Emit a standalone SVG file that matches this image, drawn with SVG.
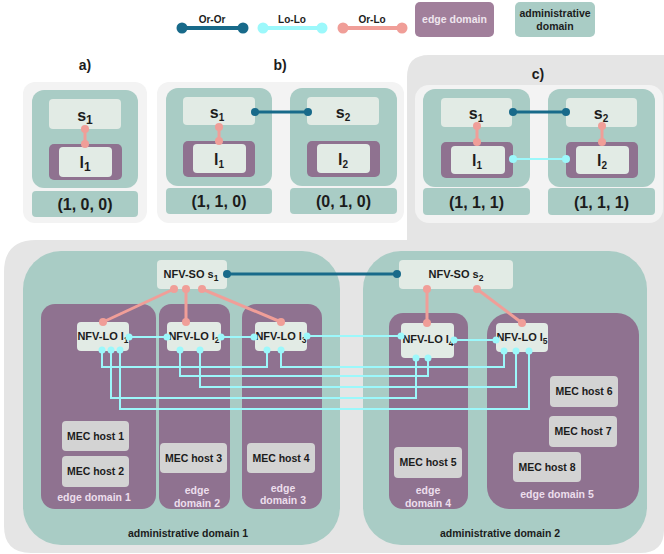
<svg xmlns="http://www.w3.org/2000/svg" width="664" height="554" viewBox="0 0 664 554">
<defs>
<style>
text{font-family:"Liberation Sans",Arial,sans-serif;font-weight:bold;fill:#1c1c1c;text-anchor:middle}
.panel{fill:#f3f3f3}
.admin{fill:#a9ccc5}
.edge{fill:#8f7290}
.node{fill:#e2ebe5}
.mec{fill:#d3d3d3}
.t16{font-size:16px}
.t14{font-size:14px}
.t11{font-size:11px}
.t10{font-size:10.5px}
.elab{fill:#ecdeec;font-size:10.5px}
.oror{stroke:#186a8a;stroke-width:3;fill:none}
.lolo{stroke:#9cf8fb;stroke-width:2;fill:none}
.orlo{stroke:#f09e98;stroke-width:3;fill:none}
.doror{fill:#186a8a}
.dlolo{fill:#9cf8fb}
.dorlo{fill:#f09e98}
</style>
</defs>

<g id="background">
<path d="M4,272 Q4,240 36,240 H407 V77 Q407,55 429,55 H664 V530 Q664,553 640,553 H31 Q4,553 4,526 Z" fill="#e5e5e5"/>
</g>

<g id="legend">
<line x1="182" y1="28" x2="243" y2="28" stroke="#186a8a" stroke-width="4"/>
<circle cx="182" cy="28" r="5.5" class="doror"/><circle cx="243" cy="28" r="5.5" class="doror"/>
<text x="212" y="23" style="font-size:10px">Or-Or</text>
<line x1="263" y1="28" x2="322" y2="28" stroke="#9cf8fb" stroke-width="4"/>
<circle cx="263" cy="28" r="5.5" class="dlolo"/><circle cx="322" cy="28" r="5.5" class="dlolo"/>
<text x="292" y="23" style="font-size:10px">Lo-Lo</text>
<line x1="343" y1="28" x2="402" y2="28" stroke="#f09e98" stroke-width="4"/>
<circle cx="343" cy="28" r="5.5" class="dorlo"/><circle cx="402" cy="28" r="5.5" class="dorlo"/>
<text x="372" y="23" style="font-size:10px">Or-Lo</text>
<rect x="415" y="2" width="79" height="35" rx="5" fill="#a17f9b"/>
<text x="454.5" y="23" class="t10" style="fill:#efe6ee">edge domain</text>
<rect x="515" y="2" width="80" height="35" rx="5" class="admin"/>
<text x="555" y="17" class="t10">administrative</text>
<text x="555" y="30" class="t10">domain</text>
</g>

<g id="panel-a">
<text x="85" y="70" class="t14">a)</text>
<rect x="23" y="82" width="124" height="141" rx="12" class="panel"/>
<rect x="32" y="90" width="106" height="98" rx="12" class="admin"/>
<rect x="49" y="99" width="72" height="30" rx="4" class="node"/>
<text x="85" y="121" class="t16">s<tspan dy="3" style="font-size:12px">1</tspan></text>
<rect x="49" y="144" width="73" height="36" rx="5" class="edge"/>
<rect x="59" y="147" width="53" height="30" rx="4" class="node"/>
<text x="85" y="168" class="t16">l<tspan dy="3" style="font-size:12px">1</tspan></text>
<rect x="32" y="191" width="106" height="26" rx="4" class="admin"/>
<text x="85" y="210" class="t16">(1, 0, 0)</text>
</g>

<g id="panel-b">
<text x="280" y="70" class="t14">b)</text>
<rect x="157" y="82" width="247" height="141" rx="12" class="panel"/>
<rect x="166" y="88" width="106" height="98" rx="12" class="admin"/>
<rect x="183" y="97" width="72" height="28" rx="4" class="node"/>
<text x="217" y="118" class="t16">s<tspan dy="3" style="font-size:10px">1</tspan></text>
<rect x="183" y="141" width="72" height="36" rx="5" class="edge"/>
<rect x="193" y="144" width="53" height="29" rx="4" class="node"/>
<text x="219" y="165" class="t16">l<tspan dy="3" style="font-size:10px">1</tspan></text>
<rect x="290" y="88" width="107" height="98" rx="12" class="admin"/>
<rect x="307" y="97" width="72" height="28" rx="4" class="node"/>
<text x="343" y="118" class="t16">s<tspan dy="3" style="font-size:10px">2</tspan></text>
<rect x="307" y="141" width="73" height="36" rx="5" class="edge"/>
<rect x="317" y="144" width="53" height="29" rx="4" class="node"/>
<text x="343" y="165" class="t16">l<tspan dy="3" style="font-size:10px">2</tspan></text>
<rect x="166" y="188" width="106" height="26" rx="4" class="admin"/>
<text x="219" y="207" class="t16">(1, 1, 0)</text>
<rect x="290" y="188" width="107" height="26" rx="4" class="admin"/>
<text x="343.5" y="207" class="t16">(0, 1, 0)</text>
</g>

<g id="panel-c">
<text x="538" y="79" class="t14">c)</text>
<rect x="415" y="85" width="248" height="138" rx="14" class="panel"/>
<rect x="423" y="89" width="107" height="98" rx="12" class="admin"/>
<rect x="441" y="98" width="71" height="29" rx="4" class="node"/>
<text x="476" y="119" class="t16">s<tspan dy="3" style="font-size:10px">1</tspan></text>
<rect x="441" y="142" width="72" height="36" rx="5" class="edge"/>
<rect x="451" y="146" width="54" height="28" rx="4" class="node"/>
<text x="477" y="166" class="t16">l<tspan dy="3" style="font-size:10px">1</tspan></text>
<rect x="548" y="89" width="107" height="98" rx="12" class="admin"/>
<rect x="566" y="98" width="71" height="29" rx="4" class="node"/>
<text x="601" y="119" class="t16">s<tspan dy="3" style="font-size:10px">2</tspan></text>
<rect x="566" y="142" width="72" height="36" rx="5" class="edge"/>
<rect x="576" y="146" width="53" height="28" rx="4" class="node"/>
<text x="602" y="166" class="t16">l<tspan dy="3" style="font-size:10px">2</tspan></text>
<rect x="423" y="188" width="107" height="27" rx="4" class="admin"/>
<text x="476.5" y="208" class="t16">(1, 1, 1)</text>
<rect x="548" y="188" width="107" height="27" rx="4" class="admin"/>
<text x="601.5" y="208" class="t16">(1, 1, 1)</text>
</g>

<g id="admin-domain-1">
<rect x="23" y="251" width="317" height="294" rx="38" class="admin"/>
<text x="188" y="537" class="t10">administrative domain 1</text>
</g>
<g id="admin-domain-2">
<rect x="363" y="251" width="284" height="294" rx="38" class="admin"/>
<text x="500" y="537" class="t10">administrative domain 2</text>
</g>

<g id="edge-domain-1">
<rect x="41" y="304" width="115" height="205" rx="14" class="edge"/>
<text x="94" y="501" class="elab">edge domain 1</text>
</g>
<g id="edge-domain-2">
<rect x="159" y="304" width="71" height="205" rx="12" class="edge"/>
<text x="197" y="494" class="elab">edge</text>
<text x="197" y="507" class="elab">domain 2</text>
</g>
<g id="edge-domain-3">
<rect x="242" y="304" width="80" height="205" rx="14" class="edge"/>
<text x="283" y="492" class="elab">edge</text>
<text x="283" y="504" class="elab">domain 3</text>
</g>
<g id="edge-domain-4">
<rect x="389" y="313" width="79" height="196" rx="14" class="edge"/>
<text x="428" y="494" class="elab">edge</text>
<text x="428" y="507" class="elab">domain 4</text>
</g>
<g id="edge-domain-5">
<rect x="487" y="313" width="152" height="196" rx="22" class="edge"/>
<text x="557" y="498" class="elab">edge domain 5</text>
</g>

<g id="nfv-so-s1">
<rect x="157" y="260" width="70" height="29" rx="4" class="node"/>
<text x="191" y="278" class="t11">NFV-SO s<tspan dy="3" style="font-size:8.5px">1</tspan></text>
</g>
<g id="nfv-so-s2">
<rect x="399" y="260" width="114" height="29" rx="4" class="node"/>
<text x="456" y="278" class="t11">NFV-SO s<tspan dy="3" style="font-size:8.5px">2</tspan></text>
</g>

<g id="nfv-lo-l1">
<rect x="77" y="322" width="52" height="29" rx="4" class="node"/>
<text x="103" y="340" class="t11">NFV-LO l<tspan dy="3" style="font-size:8.5px">1</tspan></text>
</g>
<g id="nfv-lo-l2">
<rect x="167" y="322" width="54" height="29" rx="4" class="node"/>
<text x="194" y="340" class="t11">NFV-LO l<tspan dy="3" style="font-size:8.5px">2</tspan></text>
</g>
<g id="nfv-lo-l3">
<rect x="255" y="322" width="52" height="29" rx="4" class="node"/>
<text x="281" y="340" class="t11">NFV-LO l<tspan dy="3" style="font-size:8.5px">3</tspan></text>
</g>
<g id="nfv-lo-l4">
<rect x="401" y="323" width="53" height="35" rx="4" class="node"/>
<text x="428" y="343" class="t11">NFV-LO l<tspan dy="3" style="font-size:8.5px">4</tspan></text>
</g>
<g id="nfv-lo-l5">
<rect x="496" y="323" width="52" height="29" rx="4" class="node"/>
<text x="522" y="341" class="t11">NFV-LO l<tspan dy="3" style="font-size:8.5px">5</tspan></text>
</g>

<g id="mec-host-1"><rect x="62" y="421" width="67" height="30" rx="4" class="mec"/><text x="95.5" y="440" class="t10">MEC host 1</text></g>
<g id="mec-host-2"><rect x="62" y="456" width="67" height="31" rx="4" class="mec"/><text x="95.5" y="475" class="t10">MEC host 2</text></g>
<g id="mec-host-3"><rect x="160" y="443" width="67" height="30" rx="4" class="mec"/><text x="193.5" y="462" class="t10">MEC host 3</text></g>
<g id="mec-host-4"><rect x="247" y="443" width="68" height="30" rx="4" class="mec"/><text x="281" y="462" class="t10">MEC host 4</text></g>
<g id="mec-host-5"><rect x="394" y="447" width="68" height="31" rx="4" class="mec"/><text x="428" y="466" class="t10">MEC host 5</text></g>
<g id="mec-host-6"><rect x="550" y="376" width="68" height="31" rx="4" class="mec"/><text x="584" y="395" class="t10">MEC host 6</text></g>
<g id="mec-host-7"><rect x="549" y="416" width="68" height="31" rx="4" class="mec"/><text x="583" y="435" class="t10">MEC host 7</text></g>
<g id="mec-host-8"><rect x="513" y="452" width="68" height="30" rx="4" class="mec"/><text x="547" y="471" class="t10">MEC host 8</text></g>

<g id="connectors">
<line x1="85" y1="129" x2="85" y2="144" class="orlo"/><circle cx="85" cy="129" r="4" class="dorlo"/><circle cx="85" cy="144" r="4" class="dorlo"/>
<line x1="219" y1="127" x2="219" y2="141" class="orlo"/><circle cx="219" cy="127" r="4" class="dorlo"/><circle cx="219" cy="141" r="4" class="dorlo"/>
<line x1="255" y1="112" x2="308" y2="112" class="oror"/><circle cx="255" cy="112" r="4" class="doror"/><circle cx="308" cy="112" r="4" class="doror"/>
<line x1="513" y1="112" x2="566" y2="112" class="oror"/><circle cx="513" cy="112" r="4" class="doror"/><circle cx="566" cy="112" r="4" class="doror"/>
<line x1="513" y1="159" x2="566" y2="159" class="lolo"/><circle cx="513" cy="159" r="4" class="dlolo"/><circle cx="566" cy="159" r="4" class="dlolo"/>
<line x1="477" y1="126" x2="477" y2="142" class="orlo"/><circle cx="477" cy="126" r="4" class="dorlo"/><circle cx="477" cy="142" r="4" class="dorlo"/>
<line x1="602" y1="126" x2="602" y2="142" class="orlo"/><circle cx="602" cy="126" r="4" class="dorlo"/><circle cx="602" cy="142" r="4" class="dorlo"/>
<line x1="227" y1="274" x2="397" y2="274" class="oror"/><circle cx="227" cy="274" r="4" class="doror"/><circle cx="397" cy="274" r="4" class="doror"/>
<line x1="174" y1="289" x2="103" y2="322" class="orlo"/><circle cx="174" cy="289" r="4" class="dorlo"/><circle cx="103" cy="322" r="4" class="dorlo"/>
<line x1="186" y1="289" x2="186" y2="322" class="orlo"/><circle cx="186" cy="289" r="4" class="dorlo"/><circle cx="186" cy="322" r="4" class="dorlo"/>
<line x1="202" y1="289" x2="281" y2="322" class="orlo"/><circle cx="202" cy="289" r="4" class="dorlo"/><circle cx="281" cy="322" r="4" class="dorlo"/>
<line x1="427" y1="289" x2="427" y2="323" class="orlo"/><circle cx="427" cy="289" r="4" class="dorlo"/><circle cx="427" cy="323" r="4" class="dorlo"/>
<line x1="477" y1="289" x2="522" y2="323" class="orlo"/><circle cx="477" cy="289" r="4" class="dorlo"/><circle cx="522" cy="323" r="4" class="dorlo"/>
<line x1="129" y1="337" x2="167" y2="337" class="lolo"/>
<line x1="221" y1="337" x2="254" y2="337" class="lolo"/>
<line x1="307" y1="336" x2="401" y2="336" class="lolo"/>
<line x1="454" y1="340" x2="496" y2="340" class="lolo"/>
<polyline points="102,350 102,367 267,367 267,350" class="lolo"/>
<polyline points="281,350 281,367 504,367 504,351" class="lolo"/>
<polyline points="180,350 180,376 428,376 428,358" class="lolo"/>
<polyline points="200,350 200,387 516,387 516,351" class="lolo"/>
<polyline points="111,350 111,398 416,398 416,358" class="lolo"/>
<polyline points="120,350 120,409 529,409 529,351" class="lolo"/>
<g class="dlolo">
<circle cx="129" cy="337" r="3.5"/><circle cx="167" cy="337" r="3.5"/>
<circle cx="221" cy="337" r="3.5"/><circle cx="254" cy="337" r="3.5"/>
<circle cx="307" cy="336" r="3.5"/><circle cx="401" cy="336" r="3.5"/>
<circle cx="454" cy="340" r="3.5"/><circle cx="496" cy="340" r="3.5"/>
<circle cx="102" cy="350" r="3.5"/><circle cx="111" cy="350" r="3.5"/><circle cx="120" cy="350" r="3.5"/>
<circle cx="180" cy="350" r="3.5"/><circle cx="200" cy="350" r="3.5"/>
<circle cx="267" cy="350" r="3.5"/><circle cx="281" cy="350" r="3.5"/>
<circle cx="416" cy="358" r="3.5"/><circle cx="428" cy="358" r="3.5"/>
<circle cx="504" cy="351" r="3.5"/><circle cx="516" cy="351" r="3.5"/><circle cx="529" cy="351" r="3.5"/>
</g>
</g>
</svg>
